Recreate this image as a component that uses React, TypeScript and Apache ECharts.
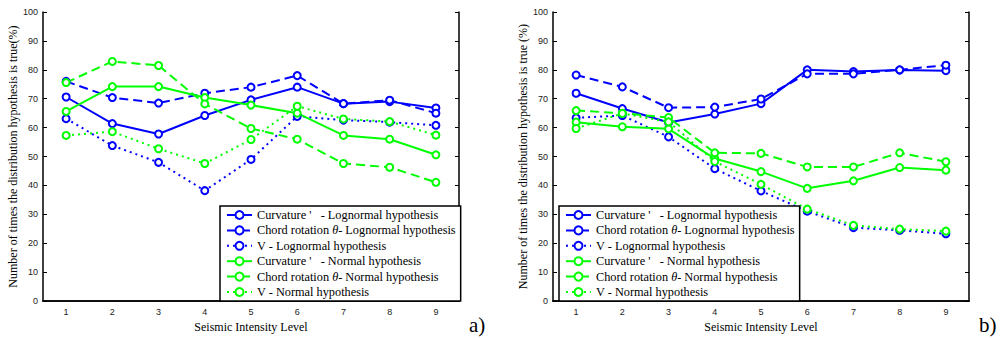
import React, { useEffect, useRef } from "react";
import * as echarts from "echarts";

const levels = ["1", "2", "3", "4", "5", "6", "7", "8", "9"];

const seriesNames = [
  "Curvature '   - Lognormal hypothesis",
  "Chord rotation θ- Lognormal hypothesis",
  "V - Lognormal hypothesis",
  "Curvature '   - Normal hypothesis",
  "Chord rotation θ- Normal hypothesis",
  "V - Normal hypothesis",
];

// a) panel
const curvLogA = [70.6, 61.4, 57.8, 64.2, 69.6, 74.0, 68.3, 69.0, 66.8];
const chordLogA = [76.0, 70.4, 68.5, 71.9, 74.0, 78.0, 68.3, 69.5, 65.0];
const vLogA = [63.1, 53.8, 48.0, 38.2, 49.0, 63.9, 62.6, 61.9, 60.8];
const curvNormA = [65.6, 74.2, 74.2, 70.4, 67.8, 65.0, 57.3, 56.0, 50.6];
const chordNormA = [75.6, 82.9, 81.5, 68.2, 59.7, 56.0, 47.6, 46.3, 41.1];
const vNormA = [57.3, 58.6, 52.7, 47.6, 55.9, 67.4, 63.0, 62.1, 57.4];

// b) panel
const curvLogB = [71.9, 66.6, 61.8, 64.7, 68.3, 80.0, 79.4, 79.9, 79.7];
const chordLogB = [78.2, 74.1, 66.9, 67.1, 69.9, 78.6, 78.6, 80.0, 81.6];
const vLogB = [63.4, 64.2, 56.8, 45.8, 38.1, 31.1, 25.4, 24.5, 23.3];
const curvNormB = [61.9, 60.3, 59.6, 49.3, 44.8, 39.0, 41.6, 46.2, 45.3];
const chordNormB = [65.9, 65.0, 63.5, 51.3, 51.1, 46.4, 46.4, 51.3, 48.2];
const vNormB = [59.7, 64.9, 62.0, 48.3, 40.4, 31.8, 26.2, 24.9, 24.2];

const yTicks = { min: 0, max: 100, interval: 10 };

const BLUE = "#0000ff";
const GREEN = "#00ff00";
const SERIF = "'Liberation Serif', 'Times New Roman', serif";
const SANS = "'Liberation Sans', Arial, sans-serif";

const styles = [
  { color: BLUE, dash: "solid" as any },
  { color: BLUE, dash: [9, 5] as any },
  { color: BLUE, dash: [2, 4] as any },
  { color: GREEN, dash: "solid" as any },
  { color: GREEN, dash: [9, 5] as any },
  { color: GREEN, dash: [2, 4] as any },
];

function makeSeries(data: number[][], axisIdx: number) {
  return data.map((d, i) => ({
    type: "line",
    name: seriesNames[i],
    xAxisIndex: axisIdx,
    yAxisIndex: axisIdx,
    data: d,
    symbol: "emptyCircle",
    symbolSize: 7,
    color: styles[i].color,
    lineStyle: { color: styles[i].color, width: 2, type: styles[i].dash },
    itemStyle: { color: styles[i].color, borderWidth: 2 },
  }));
}

function xAxes(gridIndex: number) {
  return [
    {
      type: "category",
      gridIndex,
      data: levels,
      boundaryGap: true,
      position: "bottom",
      axisLine: { lineStyle: { color: "#000", width: 1.5 } },
      axisTick: { inside: true, alignWithLabel: true, length: 4, lineStyle: { color: "#000" } },
      axisLabel: { fontSize: 9, fontFamily: SANS, color: "#222", margin: 6 },
      name: "Seismic Intensity Level",
      nameLocation: "middle",
      nameGap: 16,
      nameTextStyle: { fontFamily: SERIF, fontSize: 12, color: "#000" },
    },
    {
      type: "category",
      gridIndex,
      data: levels,
      boundaryGap: true,
      position: "top",
      axisLine: { lineStyle: { color: "#000", width: 1.5 } },
      axisTick: { inside: true, alignWithLabel: true, length: 4, lineStyle: { color: "#000" } },
      axisLabel: { show: false },
    },
  ];
}

function yAxes(gridIndex: number, title: string) {
  return [
    {
      type: "value",
      gridIndex,
      ...yTicks,
      position: "left",
      splitLine: { show: false },
      axisLine: { show: true, lineStyle: { color: "#000", width: 1.5 } },
      axisTick: { show: true, inside: true, length: 4, lineStyle: { color: "#000" } },
      axisLabel: { fontSize: 9, fontFamily: SANS, color: "#222", margin: 5 },
      name: title,
      nameLocation: "middle",
      nameGap: 22,
      nameTextStyle: { fontFamily: SERIF, fontSize: 12, color: "#000" },
    },
    {
      type: "value",
      gridIndex,
      ...yTicks,
      position: "right",
      splitLine: { show: false },
      axisLine: { show: true, lineStyle: { color: "#000", width: 1.5 } },
      axisTick: { show: true, inside: true, length: 4, lineStyle: { color: "#000" } },
      axisLabel: { show: false },
    },
  ];
}

const LEG_FONT = 12.3;

function legend(left: number) {
  return {
    orient: "vertical",
    left,
    top: 206,
    data: seriesNames.map((n, i) => ({
      name: n,
      lineStyle: { color: styles[i].color, width: 2, type: styles[i].dash },
    })),
    backgroundColor: "#fff",
    borderColor: "#000",
    borderWidth: 1.5,
    borderRadius: 0,
    padding: [3, 5, 3, 6],
    itemGap: 3.4,
    itemWidth: 25,
    itemHeight: 10,
    selectedMode: false,
    textStyle: {
      fontFamily: SERIF,
      fontSize: LEG_FONT,
      color: "#000",
      lineHeight: 12,
      rich: {
        r: { fontFamily: SERIF, fontSize: LEG_FONT, color: "#000", lineHeight: 12 },
        i: { fontFamily: SERIF, fontStyle: "italic", fontSize: LEG_FONT, color: "#000", lineHeight: 12 },
      },
    },
    formatter: (name: string) => {
      const parts = name.split("θ");
      return parts.length > 1 ? `{r|${parts[0]}}{i|θ}{r|${parts[1]}}` : `{r|${name}}`;
    },
  };
}

export default function App() {
  const ref = useRef<HTMLDivElement>(null);
  useEffect(() => {
    if (!ref.current) return;
    const chart = echarts.init(ref.current, undefined, { renderer: "svg" });
    chart.setOption({
      animation: false,
      backgroundColor: "#fff",
      grid: [
        { left: 43, top: 12, width: 416, height: 293 },
        { left: 553, top: 12, width: 416, height: 293 },
      ],
      xAxis: [...xAxes(0), ...xAxes(1)],
      yAxis: [
        ...yAxes(0, "Number of times the distribution hypothesis is true(%)"),
        ...yAxes(1, "Number of times the distribution hypothesis is true (%)"),
      ],
      legend: [legend(220), legend(559)],
      series: [
        ...makeSeries([curvLogA, chordLogA, vLogA, curvNormA, chordNormA, vNormA], 0),
        ...makeSeries([curvLogB, chordLogB, vLogB, curvNormB, chordNormB, vNormB], 2),
      ],
      graphic: [
        { type: "text", left: 469, top: 314, style: { text: "a)", font: `21px ${SERIF}`, fill: "#000" } },
        { type: "text", left: 979, top: 314, style: { text: "b)", font: `21px ${SERIF}`, fill: "#000" } },
      ],
    });
    return () => chart.dispose();
  }, []);
  return (
    <div
      ref={ref}
      style={{ position: "fixed", left: 0, top: 0, width: 1001, height: 338, background: "#fff" }}
    />
  );
}
